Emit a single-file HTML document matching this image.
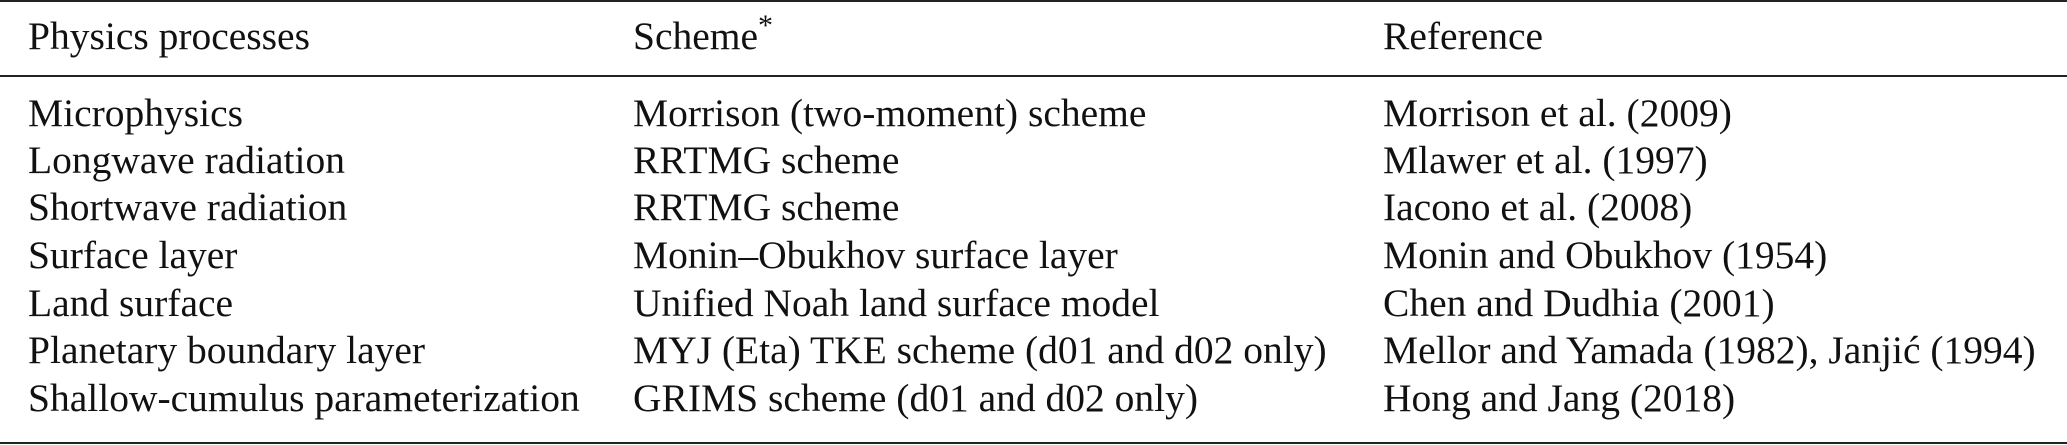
<!DOCTYPE html>
<html><head><style>
html,body{margin:0;padding:0;background:#fff;}
svg{display:block;}
text{font-family:"Liberation Serif",serif;font-size:39.5px;fill:#111;}
</style></head><body>
<svg width="2067" height="445" viewBox="0 0 2067 445">
<rect x="0" y="0" width="2067" height="2" fill="#222"/>
<rect x="0" y="75" width="2067" height="2" fill="#222"/>
<rect x="0" y="442" width="2067" height="2" fill="#222"/>
<text x="28" y="49">Physics processes</text>
<text x="633" y="49">Scheme<tspan font-size="30" dy="-14">*</tspan></text>
<text x="1383" y="49">Reference</text>
<g>
<text x="28" y="126">Microphysics</text>
<text x="28" y="173">Longwave radiation</text>
<text x="28" y="220">Shortwave radiation</text>
<text x="28" y="268">Surface layer</text>
<text x="28" y="316">Land surface</text>
<text x="28" y="363">Planetary boundary layer</text>
<text x="28" y="411">Shallow-cumulus parameterization</text>
</g>
<g>
<text x="633" y="126">Morrison (two-moment) scheme</text>
<text x="633" y="173">RRTMG scheme</text>
<text x="633" y="220">RRTMG scheme</text>
<text x="633" y="268">Monin–Obukhov surface layer</text>
<text x="633" y="316">Unified Noah land surface model</text>
<text x="633" y="363">MYJ (Eta) TKE scheme (d01 and d02 only)</text>
<text x="633" y="411">GRIMS scheme (d01 and d02 only)</text>
</g>
<g>
<text x="1383" y="126">Morrison et al. (2009)</text>
<text x="1383" y="173">Mlawer et al. (1997)</text>
<text x="1383" y="220">Iacono et al. (2008)</text>
<text x="1383" y="268">Monin and Obukhov (1954)</text>
<text x="1383" y="316">Chen and Dudhia (2001)</text>
<text x="1383" y="363">Mellor and Yamada (1982), Janjić (1994)</text>
<text x="1383" y="411">Hong and Jang (2018)</text>
</g>
</svg>
</body></html>
